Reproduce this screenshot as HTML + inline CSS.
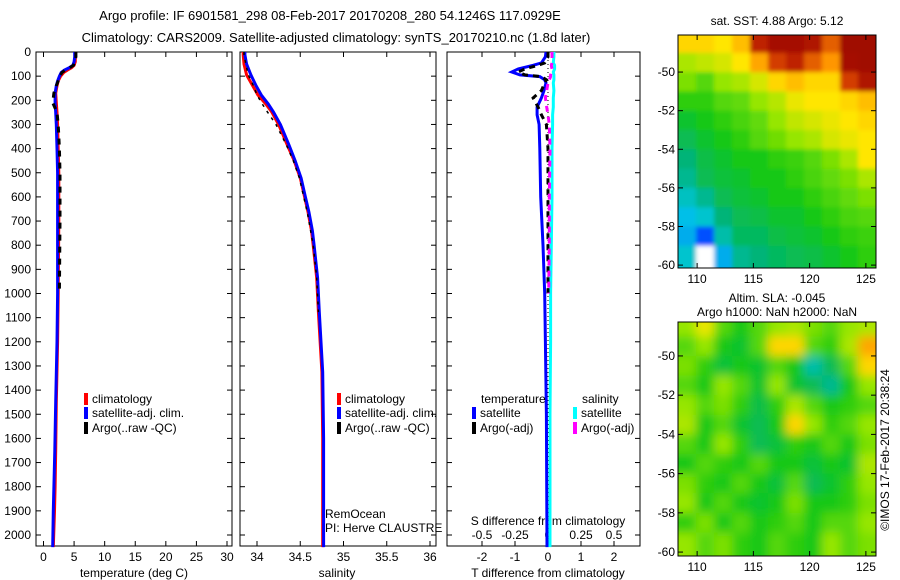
<!DOCTYPE html>
<html><head><meta charset="utf-8"><style>
html,body{margin:0;padding:0;background:#fff;}
svg{display:block;font-family:"Liberation Sans",Arial,sans-serif;}
</style></head><body>
<svg id="c" width="900" height="580" viewBox="0 0 900 580"></svg>
<script>
// ---------------- data ----------------
const depthTicks=[0,100,200,300,400,500,600,700,800,900,1000,1100,1200,1300,1400,1500,1600,1700,1800,1900,2000];
const tempTicks=[0,5,10,15,20,25,30];
const salTicks=[34,34.5,35,35.5,36];
const salTickLabels=["34","34.5","35","35.5","36"];
const tdTicks=[-2,-1,0,1,2];
const sdTicks=[-0.5,-0.25,0,0.25,0.5];
const sdTickLabels=["-0.5","-0.25","0","0.25","0.5"];
const latTicks=[-50,-52,-54,-56,-58,-60];
const lonTicks=[110,115,120,125];

const tDepth=[0,20,40,55,65,75,85,100,120,140,170,210,250,300,400,500,700,1000,1200,1450,1650,1800,1900,2050];
const tSat=[5.1,5.1,5.0,4.8,4.2,3.4,2.9,2.6,2.3,2.1,1.9,1.9,2.0,2.1,2.2,2.3,2.3,2.3,2.2,2.0,1.85,1.7,1.6,1.5];
const tClim=[5.2,5.2,5.2,5.0,4.6,3.9,3.3,2.8,2.4,2.2,2.0,2.1,2.2,2.3,2.4,2.5,2.5,2.4,2.3,2.1,2.0,1.9,1.8,1.6];
const tArgo=[5.3,5.3,5.1,4.9,4.3,3.6,3.0,2.7,2.4,2.1,1.7,1.5,2.2,2.4,2.6,2.7,2.7,2.6,null,null,null,null,null,null];

const sDepth=[0,12,50,95,140,178,215,248,300,385,450,522,600,662,740,800,936,1077,1325,1600,2050];
const sSat=[33.86,33.86,33.88,33.93,33.99,34.05,34.13,34.19,34.27,34.37,34.44,34.51,34.56,34.6,34.64,34.66,34.7,34.72,34.76,34.77,34.77];
const sClim=[33.84,33.84,33.85,33.88,33.95,34.01,34.1,34.17,34.25,34.35,34.43,34.5,34.55,34.59,34.63,34.65,34.69,34.71,34.75,34.76,34.76];
const sArgo=[33.85,33.85,33.87,33.9,33.96,34.0,34.06,34.12,34.22,34.34,34.42,34.49,34.54,34.58,34.62,34.65,34.69,34.71,null,null,null];

const dDepth=[0,20,45,55,70,83,95,102,115,128,160,190,228,260,300,400,600,800,1000,1200,1500,2050];
const dTsat=[-0.06,-0.08,-0.2,-0.45,-0.9,-1.1,-0.85,-0.25,-0.1,-0.06,-0.12,-0.2,-0.33,-0.33,-0.27,-0.25,-0.22,-0.15,-0.1,-0.08,-0.05,-0.03];
const dTargo=[0.0,0.0,-0.1,-0.3,-0.7,-0.9,-0.7,-0.2,-0.05,-0.1,-0.2,-0.45,-0.3,-0.2,-0.05,0.0,0.0,0.0,0.0,null,null,null];
const dSsat=[0.045,0.045,0.04,0.05,0.05,0.04,0.045,0.045,0.045,0.04,0.045,0.04,0.04,0.035,0.035,0.03,0.03,0.025,0.02,0.02,0.015,0.015];
const dSargo=[0.03,0.03,0.03,0.025,0.03,0.025,0.02,0.02,0.01,0.0,-0.01,-0.02,-0.01,0.0,0.01,0.015,0.01,0.01,0.005,null,null,null];

const mapLatRows=[-48.5,-49.5,-50.5,-51.5,-52.5,-53.5,-54.5,-55.5,-56.5,-57.5,-58.5,-59.5];
const mapLonCols=[109.1,110.7,112.3,113.9,115.5,117.1,118.7,120.3,121.9,123.5,125.1];
const sstGrid=[
[.72,.72,.70,.75,.92,.97,.97,.95,.85,.98,.98],
[.62,.64,.66,.70,.78,.88,.92,.85,.80,.97,.98],
[.58,.55,.60,.62,.66,.72,.75,.72,.72,.88,.95],
[.52,.52,.55,.56,.60,.63,.68,.70,.70,.72,.75],
[.48,.50,.52,.54,.56,.60,.64,.66,.68,.70,.72],
[.45,.48,.50,.52,.55,.57,.60,.62,.66,.68,.70],
[.42,.46,.48,.50,.50,.52,.53,.55,.58,.62,.70],
[.40,.45,.47,.48,.50,.50,.52,.54,.56,.58,.62],
[.36,.40,.45,.47,.48,.50,.50,.52,.54,.56,.58],
[.32,.35,.42,.45,.46,.48,.48,.50,.52,.54,.55],
[.30,.20,.38,.44,.44,.46,.47,.48,.50,.52,.53],
[.35,null,.30,.40,.42,.44,.45,.46,.48,.50,.52]];
const slaGrid=[
[.60,.68,.55,.50,.55,.60,.62,.58,.55,.60,.62],
[.55,.60,.50,.48,.55,.72,.72,.55,.52,.62,.78],
[.58,.52,.47,.50,.48,.55,.50,.38,.45,.55,.72],
[.55,.50,.60,.55,.48,.60,.48,.45,.40,.50,.60],
[.60,.55,.58,.52,.46,.52,.62,.55,.50,.52,.55],
[.62,.50,.55,.48,.45,.50,.72,.60,.52,.55,.60],
[.55,.50,.60,.52,.45,.47,.52,.50,.55,.50,.58],
[.50,.55,.52,.50,.55,.50,.50,.47,.50,.48,.62],
[.58,.52,.50,.55,.50,.47,.55,.45,.48,.52,.60],
[.60,.50,.55,.50,.48,.50,.58,.50,.50,.52,.58],
[.52,.58,.50,.55,.50,.52,.55,.50,.55,.55,.60],
[.60,.55,.58,.52,.50,.55,.52,.50,.60,.55,.58]];

// ---------------- helpers ----------------
const NS="http://www.w3.org/2000/svg";
const svg=document.getElementById('c');
function mk(tag,attrs,parent){const e=document.createElementNS(NS,tag);for(const k in attrs)e.setAttribute(k,attrs[k]);(parent||svg).appendChild(e);return e;}
function txt(s,x,y,anchor,size,parent,name){const e=mk('text',{x:x,y:y,'text-anchor':anchor||'middle','font-size':size||12,fill:'#000'},parent);e.textContent=s;


return e;}
const Y0=52,Y1=546;
const yD=d=>Y0+d*0.2415;
function lin(d0,d1,r0,r1){return v=>r0+(v-d0)/(d1-d0)*(r1-r0);}
const xT=lin(0,30,43.5,227);
const xS=lin(34,36,257,430);
const xDT=lin(0,1,548,581);
const xDS=lin(0,0.25,548,581);

function box(x0,y0,x1,y1,name){const r=mk('rect',{x:x0,y:y0,width:x1-x0,height:y1-y0,fill:'none',stroke:'#000','stroke-width':1});

}
function line(xs,ds,xf,color,w,dash,name){let pts=[];let segs=[];
for(let i=0;i<xs.length;i++){if(xs[i]===null){if(pts.length)segs.push(pts);pts=[];continue;}pts.push(xf(xs[i]).toFixed(1)+','+yD(ds[i]).toFixed(1));}
if(pts.length)segs.push(pts);
segs.forEach(p=>{const e=mk('polyline',{points:p.join(' '),fill:'none',stroke:color,'stroke-width':w,'stroke-dasharray':dash||'none'});

});}
function vtick(x,yb,yt){mk('line',{x1:x,y1:yb,x2:x,y2:yb-5,stroke:'#000'});mk('line',{x1:x,y1:yt,x2:x,y2:yt+5,stroke:'#000'});}
function htick(y,xl,xr){mk('line',{x1:xl,y1:y,x2:xl+5,y2:y,stroke:'#000'});mk('line',{x1:xr,y1:y,x2:xr-5,y2:y,stroke:'#000'});}
function legendItem(x,y,color,label){const r=mk('rect',{x:x,y:y-10,width:4,height:12,fill:color});


txt(label,x+8,y,'start',12,null,'legend-entry');}

// ---------------- titles ----------------
txt('Argo profile: IF 6901581_298 08-Feb-2017 20170208_280 54.1246S 117.0929E',330,20,'middle',13,null,'title-line-1');
txt('Climatology: CARS2009. Satellite-adjusted climatology: synTS_20170210.nc (1.8d later)',336,42,'middle',13,null,'title-line-2');

// ---------------- panel 1 temperature ----------------
box(36,Y0,232,Y1,'temperature-panel');
depthTicks.forEach(d=>{htick(yD(d),36,232);htick(yD(d),240,436);htick(yD(d),447,640);txt(String(d),31,yD(d)+4,'end',12,null,'depth-tick-label');});
tempTicks.forEach(v=>{vtick(xT(v),Y1,Y0);txt(String(v),xT(v),561,'middle',12,null,'temp-tick-label');});
txt('temperature (deg C)',134,577,'middle',12,null,'x-axis-title-temperature');
line(tClim,tDepth,xT,'#ff0000',3,null,'temp-climatology-line');
line(tSat,tDepth,xT,'#0000ff',3,null,'temp-satellite-line');
line(tArgo,tDepth,xT,'#000',3,'6,6','temp-argo-line');
legendItem(84,403,'#ff0000','climatology');
legendItem(84,417,'#0000ff','satellite-adj. clim.');
legendItem(84,432,'#000','Argo(..raw -QC)');

// ---------------- panel 2 salinity ----------------
box(240,Y0,436,Y1,'salinity-panel');
salTicks.forEach((v,i)=>{vtick(xS(v),Y1,Y0);txt(salTickLabels[i],xS(v),561,'middle',12,null,'sal-tick-label');});
txt('salinity',337,577,'middle',12,null,'x-axis-title-salinity');
line(sClim,sDepth,xS,'#ff0000',3,null,'sal-climatology-line');
line(sSat,sDepth,xS,'#0000ff',3,null,'sal-satellite-line');
line(sArgo,sDepth,xS,'#000',1.5,'3,5','sal-argo-line');
legendItem(337,403,'#ff0000','climatology');
legendItem(337,417,'#0000ff','satellite-adj. clim.');
legendItem(337,432,'#000','Argo(..raw -QC)');
txt('RemOcean',325,518,'start',12,null,'remocean-label');
txt('PI: Herve CLAUSTRE',325,532,'start',12,null,'pi-label');

// ---------------- panel 3 differences ----------------
box(447,Y0,640,Y1,'difference-panel');
tdTicks.forEach(v=>{mk('line',{x1:xDT(v),y1:Y1,x2:xDT(v),y2:Y1-5,stroke:'#000'});txt(String(v),xDT(v),561,'middle',12,null,'tdiff-tick-label');});
sdTicks.forEach((v,i)=>{mk('line',{x1:xDS(v),y1:Y0,x2:xDS(v),y2:Y0+5,stroke:'#000'});txt(sdTickLabels[i],xDS(v),539,'middle',12,null,'sdiff-tick-label');});
txt('S difference from climatology',548,525,'middle',12,null,'s-diff-axis-title');
txt('T difference from climatology',548,577,'middle',12,null,'t-diff-axis-title');
mk('line',{x1:xDT(0),y1:Y0,x2:xDT(0),y2:Y1,stroke:'#000','stroke-width':1,'stroke-dasharray':'1,3'});
line(dSsat,dDepth,xDS,'#00ffff',3,null,'sdiff-satellite-line');
line(dTsat,dDepth,xDT,'#0000ff',3,null,'tdiff-satellite-line');
line(dTargo,dDepth,xDT,'#000',3,'6,5','tdiff-argo-line');
line(dSargo,dDepth,xDS,'#ff00ff',3,'6,5','sdiff-argo-line');
txt('temperature',481,403,'start',12,null,'legend-title-temperature');
txt('salinity',582,403,'start',12,null,'legend-title-salinity');
legendItem(472,417,'#0000ff','satellite');
legendItem(573,417,'#00ffff','satellite');
legendItem(472,432,'#000','Argo(-adj)');
legendItem(573,432,'#ff00ff','Argo(-adj)');

// ---------------- maps ----------------
const cmapStops=[[0,[0,0,140]],[0.2,[0,80,255]],[0.33,[0,200,230]],[0.42,[0,180,120]],[0.5,[20,200,20]],[0.6,[150,230,0]],[0.7,[255,230,0]],[0.8,[255,150,0]],[0.9,[200,40,0]],[1,[150,0,0]]];
function cmap(v){v=Math.max(0,Math.min(1,v));for(let i=1;i<cmapStops.length;i++){if(v<=cmapStops[i][0]){const a=cmapStops[i-1],b=cmapStops[i];const t=(v-a[0])/(b[0]-a[0]);
return 'rgb('+a[1].map((c,k)=>Math.round(c+(b[1][k]-c)*t)).join(',')+')';}}return 'rgb(150,0,0)';}
function drawMap(grid,x0,y0,x1,y1,latTop,latBot,name,blur){
 const lonL=108.3,lonR=125.9;
 const xm=lin(lonL,lonR,x0,x1), ym=lin(latTop,latBot,y0,y1);
 const g=mk('g',{});
 
 
 const clipId=name+'-clip';
 const cp=mk('clipPath',{id:clipId},g);mk('rect',{x:x0,y:y0,width:x1-x0,height:y1-y0},cp);
 const inner=mk('g',{'clip-path':'url(#'+clipId+')'},g);
 if(blur){const f=mk('filter',{id:name+'-blur',x:'-10%',y:'-10%',width:'120%',height:'120%'},g);mk('feGaussianBlur',{stdDeviation:blur},f);}
 const cells=mk('g',blur?{filter:'url(#'+name+'-blur)'}:{},inner);
 const dLon=mapLonCols[1]-mapLonCols[0];
 grid.forEach((row,i)=>row.forEach((v,j)=>{
  const lat=mapLatRows[i],lon=mapLonCols[j];
  const xa=xm(lon-dLon/2-(j===0?2:0)),xb=xm(lon+dLon/2+(j===row.length-1?2:0));
  const ya=ym(lat+0.5+(i===0?1:0)),yb=ym(lat-0.5-(i===grid.length-1?1:0));
  const c=mk('rect',{x:xa.toFixed(1),y:ya.toFixed(1),width:(xb-xa+0.6).toFixed(1),height:(yb-ya+0.6).toFixed(1),fill:v===null?'#fff':cmap(v)},cells);
  
  
 }));
 box(x0,y0,x1,y1,name+'-frame');
 latTicks.forEach(l=>{htick(ym(l),x0,x1);txt(String(l),x0-3,ym(l)+4,'end',12,null,'lat-tick-label');});
 lonTicks.forEach(l=>{vtick(xm(l),y1,y0);txt(String(l),xm(l),y1+15,'middle',12,null,'lon-tick-label');});
}
drawMap(sstGrid,678,35,876,268,-48.08,-60.15,'sst-map',2);
drawMap(slaGrid,678,322,876,556,-48.27,-60.2,'sla-map',5);
txt('sat. SST: 4.88 Argo: 5.12',777,25,'middle',12,null,'sst-map-title');
txt('Altim. SLA: -0.045',777,302,'middle',12,null,'sla-map-title');
txt('Argo h1000: NaN h2000: NaN',777,316,'middle',12,null,'sla-map-subtitle');
const im=txt('©IMOS 17-Feb-2017 20:38:24',0,0,'middle',12,null,'imos-timestamp');
im.setAttribute('transform','translate(889,450) rotate(-90)');
</script>
</body></html>
